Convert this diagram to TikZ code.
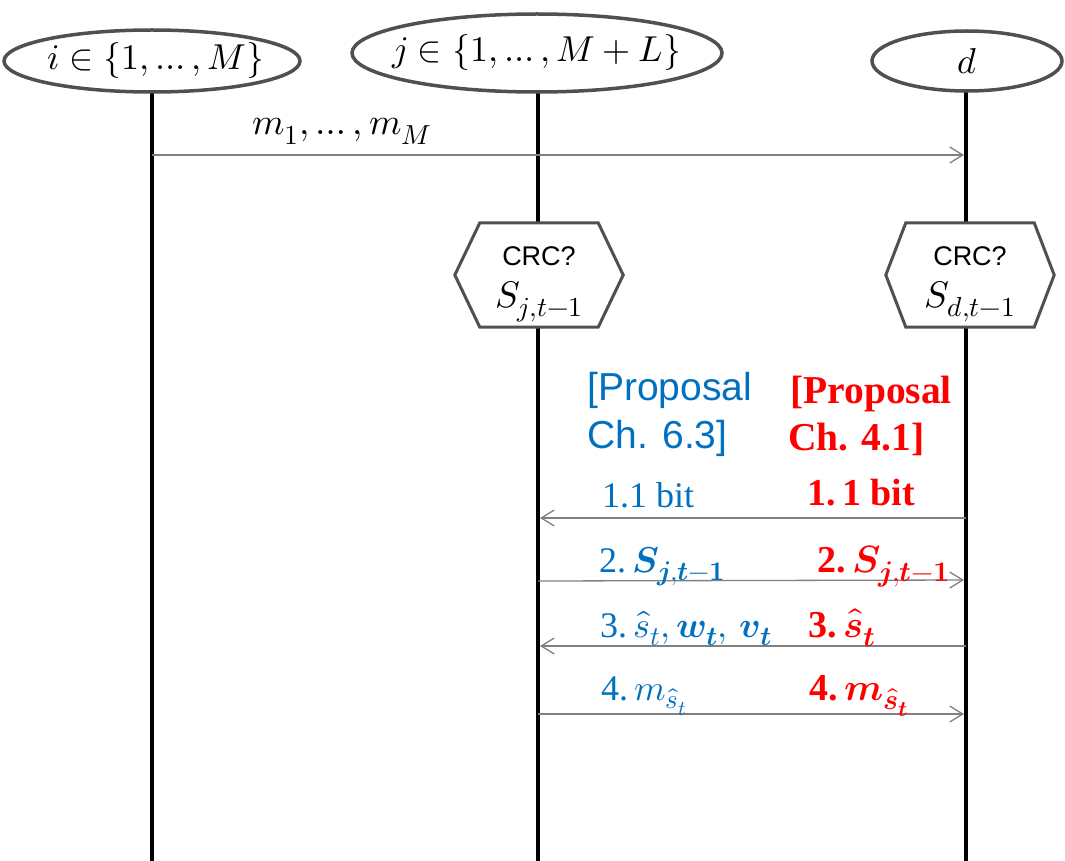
\documentclass[tikz,border=0pt]{standalone}
\usepackage{amsmath}
\usepackage{fontspec}
\usepackage{unicode-math}
\setmathfont{Latin Modern Math}
\setsansfont{Liberation Sans}
\newfontfamily\lserif{Liberation Serif}
\DeclareMathSizes{36}{36}{27}{21}
\DeclareMathSizes{37}{37}{27.5}{21}
\DeclareMathSizes{38}{38}{28.5}{22}
\usetikzlibrary{arrows.meta,shapes.geometric}
\definecolor{pblue}{RGB}{0,112,192}
\definecolor{pred}{RGB}{255,0,0}
\definecolor{edgegray}{RGB}{80,80,80}
\definecolor{msggray}{RGB}{128,128,128}
\tikzset{
  actor/.style={ellipse,draw=edgegray,line width=3.5pt,fill=white,inner sep=0pt},
  life/.style={line width=4pt,black},
  hexbox/.style={rectangle,inner sep=0pt,minimum width=168pt,minimum height=104pt},
  hexline/.style={draw=edgegray,line width=3pt,fill=white,line join=miter},
  msg/.style={msggray,line width=1.3pt,-{Straight Barb[length=13pt,width=16pt,line width=1.3pt]},shorten >=2pt},
  big/.style={font=\fontsize{36}{42}\selectfont,inner sep=0pt},
  lbl/.style={font=\lserif\fontsize{36}{44}\selectfont,inner sep=0pt,anchor=base west},
  rlbl/.style={font=\lserif\bfseries\fontsize{38}{44}\selectfont,text=pred,inner sep=0pt,anchor=base west},
  bluehead/.style={font=\sffamily\fontsize{39}{47}\selectfont,text=pblue,inner sep=0pt,anchor=base west},
  redhead/.style={font=\lserif\bfseries\fontsize{39.5}{47}\selectfont,text=pred,inner sep=0pt,anchor=base west},
  crc/.style={font=\sffamily\fontsize{27}{30}\selectfont,inner sep=0pt},
}
\begin{document}
\begin{tikzpicture}[x=1pt,y=-1pt]
\useasboundingbox[fill=white] (0,0) rectangle (1065,861);
\coordinate (ib) at (152,861);
\coordinate (jb) at (538,861);
\coordinate (db) at (966,861);
\draw[life] (152,80) -- (ib);
\draw[life] (538,80) -- (jb);
\draw[life] (966,80) -- (db);
\node[actor,minimum width=296pt,minimum height=62pt] (i) at (152,61) {};
\node[big] (il) at ([xshift=4pt]i.center) {$i\in\{1,\dots,M\}$};
\node[actor,minimum width=370pt,minimum height=78pt] (j) at (537,53) {};
\node[big] (jl) at (j.center) {$j\in\{1,\dots,M+L\}$};
\node[actor,minimum width=190pt,minimum height=60pt] (d) at (967,61) {};
\node[big] (dl) at (d.center) {$d$};
\node[hexbox] (hj) at (539,275) {};
\draw[hexline] (hj.west) -- ([xshift=25pt]hj.north west) -- ([xshift=-25pt]hj.north east) -- (hj.east) -- ([xshift=-25pt]hj.south east) -- ([xshift=25pt]hj.south west) -- cycle;
\node[crc] (hjc) at (539,256) {CRC?};
\node[big,anchor=base,font=\fontsize{37}{42}\selectfont] (hjs) at (539,307) {$S_{j,t-1}$};
\node[hexbox] (hd) at (970,275) {};
\draw[hexline] (hd.west) -- ([xshift=20pt]hd.north west) -- ([xshift=-20pt]hd.north east) -- (hd.east) -- ([xshift=-20pt]hd.south east) -- ([xshift=20pt]hd.south west) -- cycle;
\node[crc] (hdc) at (970,256) {CRC?};
\node[big,anchor=base,font=\fontsize{37}{42}\selectfont] (hds) at (970,307) {$S_{d,t-1}$};
\coordinate (i0) at (152,155);
\coordinate (d0) at (966,155);
\draw[msg] (i0) -- (d0);
\node[big,anchor=base,font=\fontsize{37}{42}\selectfont] (ml) at (342,135) {$m_1,\dots,m_M$};
\node[bluehead] (bh1) at (587,400) {[Proposal};
\node[bluehead] (bh2) at (587,448) {Ch. 6.3]};
\node[redhead] (rh1) at (790,403) {[Proposal};
\node[redhead] (rh2) at (788,450) {Ch. 4.1]};
\coordinate (j1) at (538,518); \coordinate (d1) at (966,518);
\coordinate (j2) at (538,581); \coordinate (d2) at (966,580);
\coordinate (j3) at (538,646); \coordinate (d3) at (966,646);
\coordinate (j4) at (538,714); \coordinate (d4) at (966,714);
\draw[msg] (d1) -- (j1);
\draw[msg] (j2) -- (d2);
\draw[msg] (d3) -- (j3);
\draw[msg] (j4) -- (d4);
\node[lbl,text=pblue] (b1) at (602,507) {1.1 bit};
\node[lbl,text=pblue] (b2) at (599,572) {2.\,$\symbfit{S}_{\symbfit{j},\symbfit{t}\symbf{-}\symbf{1}}$};
\node[lbl,text=pblue] (b3) at (600,637) {3.\,$\hat{s}_t,\symbfit{w}_{\symbfit{t}},\,\symbfit{v}_{\symbfit{t}}$};
\node[lbl,text=pblue] (b4) at (601,700) {4.\,$m_{\hat{s}_t}$};
\node[rlbl] (r1) at (807,505) {1.\,1 bit};
\node[rlbl] (r2) at (817,572) {2.\,$\symbfit{S}_{\symbfit{j},\symbfit{t}\symbf{-}\symbf{1}}$};
\node[rlbl] (r3) at (808,637) {3.\,$\hat{\symbfit{s}}_{\symbfit{t}}$};
\node[rlbl] (r4) at (809,700) {4.\,$\symbfit{m}_{\hat{\symbfit{s}}_{\symbfit{t}}}$};
\end{tikzpicture}
\end{document}
